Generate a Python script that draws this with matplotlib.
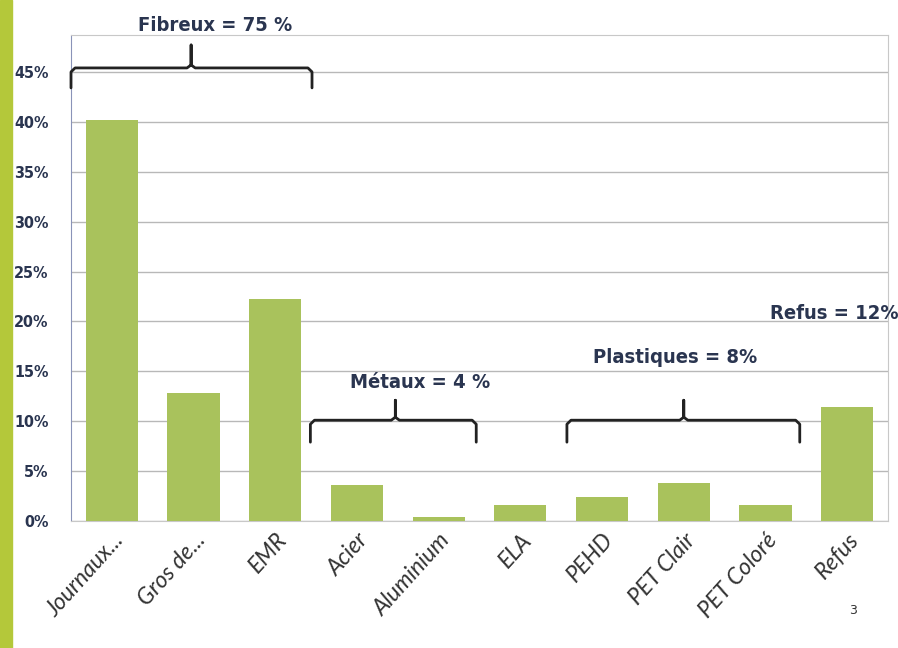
import matplotlib.pyplot as plt
import numpy as np
from matplotlib.patches import Rectangle

# categories and shares (fraction of total)
categories = ["Journaux...", "Gros de...", "EMR", "Acier", "Aluminium", "ELA",
              "PEHD", "PET Clair", "PET Coloré", "Refus"]
shares = [0.402, 0.128, 0.222, 0.036, 0.004, 0.016, 0.024, 0.038, 0.016, 0.114]

# group labels
groups = ["Fibreux = 75 %", "Métaux = 4 %", "Plastiques = 8%"]
refus_label = "Refus = 12%"

BAR = "#a9c25c"
TXT = "#2a3550"


def brace(ax, x0, x1, xm, y, drop, rise):
    # simple curly brace: ends bend down, tip points up
    r = 0.05
    xs = [x0, x0, x0 + r, xm - r, xm, xm, xm, xm + r, x1 - r, x1, x1]
    ys = [y - drop, y - 0.004, y, y, y + 0.003, y + rise, y + 0.003, y, y, y - 0.004, y - drop]
    ax.plot(xs, ys, color="#222222", lw=2.0, clip_on=False, solid_joinstyle="round",
            solid_capstyle="round", zorder=5)


fig = plt.figure(figsize=(8.98, 6.48), dpi=100)
fig.patches.append(Rectangle((0, 0), 12 / 898, 1, transform=fig.transFigure,
                             color="#b4c83a", zorder=0))
ax = fig.add_axes([71 / 898, 1 - 521 / 648, 817 / 898, 486 / 648])

x = np.arange(len(categories))
ax.bar(x, shares, width=0.64, color=BAR, zorder=3)
ax.set_xlim(-0.5, len(categories) - 0.5)
ax.set_ylim(0, 0.487)

yt = np.arange(0, 0.46, 0.05)
ax.set_yticks(yt)
ax.set_yticklabels([f"{int(round(v * 100))}%" for v in yt],
                   fontsize=11.5, fontweight="bold", color=TXT, fontstretch="condensed")
ax.yaxis.grid(True, color="#b8b8b8", lw=1.0, zorder=0)
ax.tick_params(axis="y", length=0, pad=16)
ax.tick_params(axis="x", length=0, pad=6)
ax.set_xticks(x)
ax.set_xticklabels(categories, rotation=48, ha="right", rotation_mode="anchor",
                   fontsize=16.5, style="italic", color="#333333", family="Lato")

for s in ["top", "right", "bottom"]:
    ax.spines[s].set_color("#c8c8c8")
ax.spines["left"].set_color("#8a93b8")

# braces and group annotations
brace(ax, -0.5, 2.45, 0.97, 0.454, 0.020, 0.023)
brace(ax, 2.43, 4.46, 3.47, 0.101, 0.022, 0.020)
brace(ax, 5.57, 8.42, 7.0, 0.101, 0.022, 0.020)

font = dict(fontsize=14.5, fontweight="bold", color=TXT, fontstretch="condensed",
            ha="center", va="center", clip_on=False, zorder=6)
ax.text(1.26, 0.497, groups[0], **font)
ax.text(3.77, 0.139, groups[1], **font)
ax.text(6.89, 0.164, groups[2], **font)
ax.text(8.84, 0.208, refus_label, **font)

fig.text(853 / 898, 1 - 611 / 648, "3", fontsize=9, color="#333333", ha="center", va="center")

fig.savefig("out.png", dpi=100)
